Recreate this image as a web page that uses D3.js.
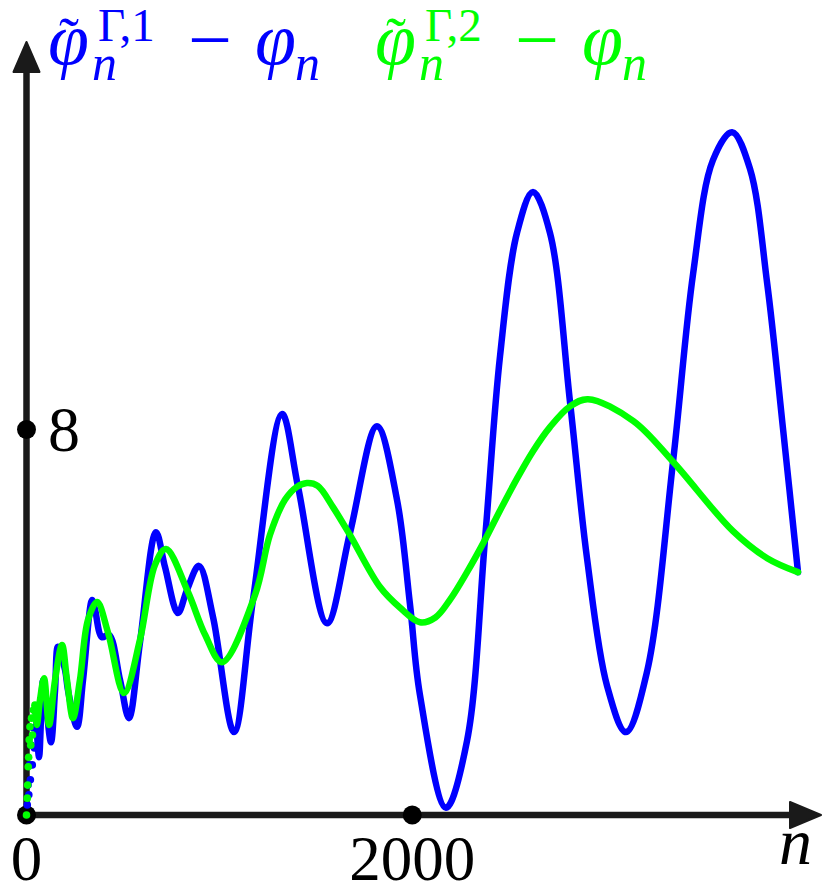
<!DOCTYPE html>
<html>
<head>
<meta charset="utf-8">
<script src="https://cdn.jsdelivr.net/npm/d3@7"></script>
<style>
  html, body { margin: 0; padding: 0; background: #fff; }
  svg { display: block; }
</style>
</head>
<body>
<div id="chart"></div>
<script>
// values (n, value)
const blueN = [4, 8, 12, 16, 20, 24, 30, 35, 41, 49, 65, 86, 104, 127, 148, 163, 200, 215, 262, 293,
  340, 355, 391, 428, 485, 531, 588, 671, 718, 785, 832, 894, 967, 1076, 1174, 1325, 1408, 1558, 1677, 1817,
  1921, 1988, 2040, 2175, 2284, 2377, 2455, 2543, 2626, 2714, 2818, 2906, 3010, 3108, 3217, 3352, 3456, 3559, 3658, 3751,
  3840, 3923, 4000];
const blueV = [0.21, 0.62, 0.42, 1.04, 0.73, 1.45, 1.04, 1.81, 1.39, 2.14, 1.20, 2.80, 2.18, 1.51, 2.59, 3.49, 3.01, 2.59, 1.83, 2.80,
  4.46, 4.27, 3.69, 3.74, 2.80, 2.01, 3.57, 5.87, 5.15, 4.19, 4.67, 5.17, 4.11, 1.72, 4.46, 8.32, 6.81, 3.98, 5.85, 8.07,
  6.54, 4.38, 2.49, 0.15, 1.54, 5.71, 9.52, 12.08, 12.93, 12.08, 8.57, 5.33, 2.68, 1.72, 2.97, 7.33, 11.23, 13.59, 14.17, 13.41,
  11.04, 7.99, 5.04];

const greenN = [0, 4, 6, 9, 11, 14, 18, 22, 26, 31, 36, 44, 54, 70, 91, 117, 148, 184, 210, 241,
  277, 319, 366, 423, 506, 588, 666, 723, 837, 926, 1014, 1185, 1262, 1340, 1402, 1454, 1510, 1589, 1677, 1833,
  1937, 2040, 2120, 2196, 2284, 2377, 2455, 2543, 2626, 2714, 2818, 2911, 3145, 3352, 3663, 3840, 4000];
const greenV = [0, 0.35, 0.62, 1.00, 1.20, 1.56, 1.83, 1.45, 2.01, 1.66, 2.18, 2.28, 1.87, 2.39, 2.84, 1.87, 2.80, 3.53, 2.80, 2.01,
  2.80, 4.05, 4.42, 3.78, 2.53, 3.63, 5.19, 5.52, 4.63, 3.74, 3.17, 4.57, 5.81, 6.54, 6.81, 6.89, 6.83, 6.39, 5.81, 4.73,
  4.30, 4.00, 4.10, 4.47, 5.04, 5.71, 6.32, 6.98, 7.55, 8.05, 8.48, 8.63, 8.18, 7.33, 5.89, 5.33, 5.04];

const xTicks = [0, 2000];
const yTicks = [8];

var width = 830, height = 892;
var axisCol = "#1a1a1a";
var blue = "#0000ff", green = "#00ff00";
var lw = 6.5;

var svg = d3.select("#chart").append("svg")
  .attr("width", width)
  .attr("height", height);

var x = d3.scaleLinear().domain([0, 4000]).range([26.5, 798]);
var y = d3.scaleLinear().domain([0, 8]).range([815, 429.5]);

// axes with arrow heads
svg.append("line")
  .attr("x1", x(0)).attr("y1", y(0))
  .attr("x2", 792).attr("y2", y(0))
  .attr("stroke", axisCol).attr("stroke-width", lw);
svg.append("path")
  .attr("d", "M790," + (y(0) - 13) + "L821," + y(0) + "L790," + (y(0) + 13) + "Z")
  .attr("fill", axisCol).attr("stroke", axisCol).attr("stroke-width", 2).attr("stroke-linejoin", "round");
svg.append("line")
  .attr("x1", x(0)).attr("y1", y(0))
  .attr("x2", x(0)).attr("y2", 70)
  .attr("stroke", axisCol).attr("stroke-width", lw);
svg.append("path")
  .attr("d", "M" + (x(0) - 13) + ",72L" + x(0) + ",42L" + (x(0) + 13) + ",72Z")
  .attr("fill", axisCol).attr("stroke", axisCol).attr("stroke-width", 2).attr("stroke-linejoin", "round");

// tick dots
svg.selectAll(".xdot").data(xTicks).enter().append("circle")
  .attr("cx", d => x(d)).attr("cy", y(0)).attr("r", 9.5).attr("fill", "#000");
svg.selectAll(".ydot").data(yTicks).enter().append("circle")
  .attr("cx", x(0)).attr("cy", d => y(d)).attr("r", 9.5).attr("fill", "#000");

// tick labels
var serif = "'Liberation Serif', 'DejaVu Serif', serif";
svg.selectAll(".xlab").data(xTicks).enter().append("text")
  .attr("x", d => x(d)).attr("y", 880)
  .attr("text-anchor", "middle")
  .style("font-family", serif).style("font-size", "63px")
  .text(d => d);
svg.selectAll(".ylab").data(yTicks).enter().append("text")
  .attr("x", 48).attr("y", d => y(d) + 21)
  .style("font-family", serif).style("font-size", "64px")
  .text(d => d);
svg.append("text")
  .attr("x", 779).attr("y", 864)
  .style("font-family", serif).style("font-size", "66px").style("font-style", "italic")
  .text("n");

// series
function drawSeries(ns, vs, col, cut) {
  var pts = ns.map((n, i) => [n, vs[i]]);
  var early = pts.filter(p => p[0] <= cut);
  var rest = pts.filter(p => p[0] >= early[early.length - 1][0]);
  var line = d3.line()
    .x(d => x(d[0])).y(d => y(d[1]))
    .curve(d3.curveCatmullRom.alpha(0.5));
  svg.append("path")
    .attr("d", line(rest))
    .attr("fill", "none")
    .attr("stroke", col)
    .attr("stroke-width", lw)
    .attr("stroke-linecap", "round")
    .attr("stroke-linejoin", "round");
  svg.selectAll(null).data(early).enter().append("circle")
    .attr("cx", d => x(d[0])).attr("cy", d => y(d[1]))
    .attr("r", 3.8).attr("fill", col);
}
drawSeries(blueN, blueV, blue, 49);
drawSeries(greenN, greenV, green, 44);

// legend
function legend(x0, col, idx) {
  var g = svg.append("g").attr("fill", col).style("font-family", serif);
  g.append("text").attr("x", x0 - 2).attr("y", 64)
    .style("font-size", "74px").style("font-style", "italic").text("\u03C6");
  g.append("text").attr("x", x0 + 19).attr("y", 58).attr("text-anchor", "middle")
    .style("font-size", "60px").text("\u02DC");
  g.append("text").attr("x", x0 + 48).attr("y", 41)
    .style("font-size", "47px").text("\u0393," + idx);
  g.append("text").attr("x", x0 + 42).attr("y", 80)
    .style("font-size", "50px").style("font-style", "italic").text("n");
  g.append("text").attr("x", x0 + 138).attr("y", 66)
    .style("font-size", "78px").text("\u2212");
  g.append("text").attr("x", x0 + 205).attr("y", 64)
    .style("font-size", "74px").style("font-style", "italic").text("\u03C6");
  g.append("text").attr("x", x0 + 245).attr("y", 80)
    .style("font-size", "50px").style("font-style", "italic").text("n");
}
legend(50, blue, 1);
legend(377, green, 2);
</script>
</body>
</html>
